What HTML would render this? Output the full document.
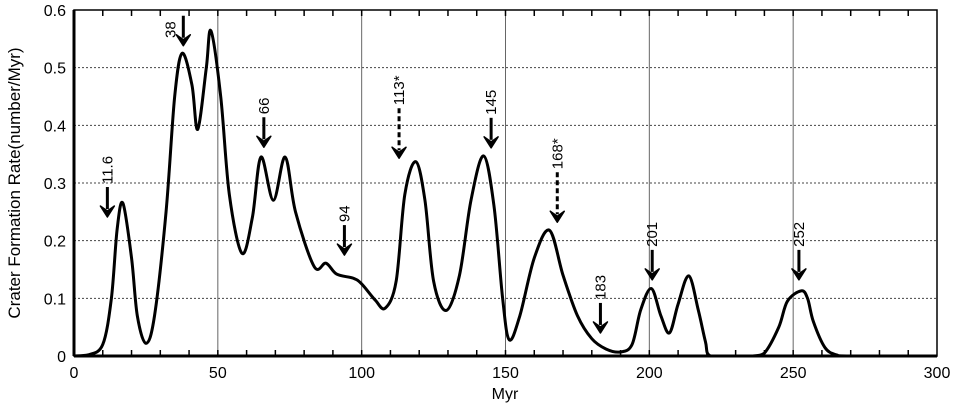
<!DOCTYPE html>
<html><head><meta charset="utf-8"><style>
body{margin:0;background:#fff}
svg{display:block;font-family:"Liberation Sans",Arial,sans-serif}
</style></head><body>
<svg id="chart" width="960" height="406" viewBox="0 0 960 406"></svg>
<script>
const xTicks=[0,50,100,150,200,250,300];
const yTicks=[0,0.1,0.2,0.3,0.4,0.5,0.6];
const yTickLabels=["0","0.1","0.2","0.3","0.4","0.5","0.6"];
const curveX=[0,5,10,13,15,17,20,22,25,28,32,35,37.6,41,43,46,47.6,51,54,58.4,62,65,69.3,73.4,77,83.5,87.6,91.3,97,100,104.7,108.2,112,115,118.8,122,125,129.4,134,138,142.4,146,149,151.3,155,160,165.3,170,175,180,185,190,194,197,200.7,204,207,210,213.7,217,219.5,221.2,230,236,240,245,248,252.8,255,257,261,265,270,300];
const curveY=[0,0.002,0.02,0.1,0.22,0.265,0.17,0.07,0.022,0.07,0.25,0.45,0.525,0.47,0.393,0.5,0.564,0.45,0.28,0.178,0.24,0.345,0.27,0.345,0.25,0.155,0.161,0.142,0.135,0.125,0.097,0.083,0.13,0.28,0.337,0.27,0.13,0.079,0.14,0.27,0.347,0.26,0.1,0.028,0.07,0.17,0.218,0.14,0.07,0.03,0.012,0.007,0.02,0.08,0.117,0.07,0.04,0.09,0.139,0.08,0.025,0,0,0,0.005,0.05,0.095,0.113,0.1,0.06,0.015,0.002,0,0];
const arrowX=[11.6,38,66,94,113,145,168,183,201,252];
const arrowTip=[0.241,0.538,0.362,0.175,0.343,0.361,0.232,0.04,0.132,0.132];
const arrowLabels=["11.6","38","66","94","113*","145","168*","183","201","252"];
const arrowDashed=[false,false,false,false,true,false,true,false,false,false];

const L=74,R=937,T=10,B=356;
const sx=v=>L+(v-0)/(300-0)*(R-L);
const sy=v=>B-(v-0)/(0.6-0)*(B-T);
const svg=document.getElementById('chart');
const NS='http://www.w3.org/2000/svg';
function mk(tag,attrs,parent){const e=document.createElementNS(NS,tag);for(const k in attrs)e.setAttribute(k,attrs[k]);(parent||svg).appendChild(e);return e;}

// gridlines
yTicks.forEach((t,i)=>{if(t>0&&t<0.6){const g=mk('line',{x1:L,x2:R,y1:sy(t),y2:sy(t),stroke:'#444','stroke-width':1,'stroke-dasharray':'2,2'});

}});
xTicks.forEach(t=>{if(t>0&&t<300){const g=mk('line',{x1:sx(t),x2:sx(t),y1:T,y2:B,stroke:'#666','stroke-width':1});

}});
// minor ticks
for(let v=10;v<300;v+=10){
 const a=mk('line',{x1:sx(v),x2:sx(v),y1:B,y2:B-6,stroke:'#000','stroke-width':1.5});
 
 
 const b=mk('line',{x1:sx(v),x2:sx(v),y1:T,y2:T+6,stroke:'#000','stroke-width':1.5});
 
 
}
// curve
const pts=curveX.map((x,i)=>[sx(x),sy(curveY[i])]);
let d='M'+pts[0][0]+','+pts[0][1];
for(let i=0;i<pts.length-1;i++){
 const p0=pts[Math.max(0,i-1)],p1=pts[i],p2=pts[i+1],p3=pts[Math.min(pts.length-1,i+2)];
 let c1y=p1[1]+(p2[1]-p0[1])/6,c2y=p2[1]-(p3[1]-p1[1])/6;
 c1y=Math.min(c1y,B);c2y=Math.min(c2y,B);
 d+=` C${p1[0]+(p2[0]-p0[0])/6},${c1y} ${p2[0]-(p3[0]-p1[0])/6},${c2y} ${p2[0]},${p2[1]}`;
}
const c=mk('path',{d:d,fill:'none',stroke:'#000','stroke-width':3,'stroke-linejoin':'round'});


// frame
const f=mk('rect',{x:L,y:T,width:R-L,height:B-T,fill:'none',stroke:'#000','stroke-width':1.5});


const ax=mk('line',{x1:L,x2:R,y1:B,y2:B,stroke:'#000','stroke-width':3});


const ay=mk('line',{x1:L,x2:L,y1:T,y2:B,stroke:'#000','stroke-width':3});


// tick labels
xTicks.forEach(t=>{const e=mk('text',{x:sx(t),y:B+22,'text-anchor':'middle','font-size':16});e.textContent=t;

});
yTicks.forEach((t,i)=>{const e=mk('text',{x:L-8,y:sy(t)+6,'text-anchor':'end','font-size':16});e.textContent=yTickLabels[i];

});
// axis titles
const xt=mk('text',{x:505,y:399,'text-anchor':'middle','font-size':16});xt.textContent='Myr';


const yt=mk('text',{x:0,y:0,'text-anchor':'middle','font-size':17,transform:'translate(20,183) rotate(-90)'});yt.textContent='Crater Formation Rate(number/Myr)';


// arrows
arrowX.forEach((v,i)=>{
 const g=mk('g',{});
 
 
 const x=sx(v),tip=sy(arrowTip[i]);
 const len=arrowDashed[i]?50:30;
 mk('line',{x1:x,x2:x,y1:tip-len,y2:tip-8,stroke:'#000','stroke-width':3,'stroke-dasharray':arrowDashed[i]?'5,3':'none'},g);
 mk('path',{d:`M${x-7},${tip-11} L${x},${tip} L${x+7},${tip-11} L${x},${tip-6} Z`,fill:'#000',stroke:'#000','stroke-width':1.5,'stroke-linejoin':'round'},g);
 const top=tip-len-3;
 let tx=x+5,ty=top;
 if(arrowLabels[i]==='38'){tx=x-8;ty=T+28;}
 const t=mk('text',{'font-size':15,'text-anchor':'start',transform:`translate(${tx},${ty}) rotate(-90)`},g);
 t.textContent=arrowLabels[i];
});
</script>
</body></html>
